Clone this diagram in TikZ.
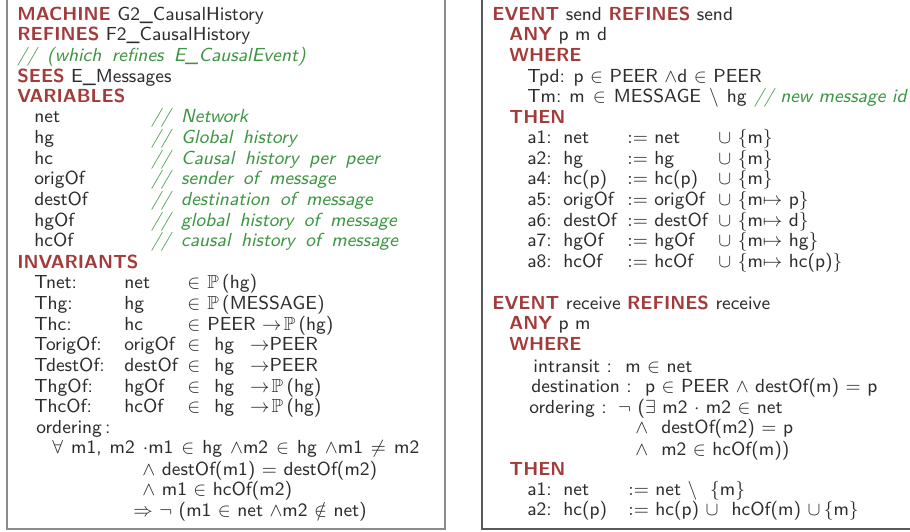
\documentclass[tikz,border=0pt]{standalone}
\usepackage{fix-cm}
\usepackage{amssymb}
\usepackage{xcolor}
\definecolor{kwred}{RGB}{163,59,59}
\definecolor{cmtgreen}{RGB}{62,150,68}
\definecolor{ink}{RGB}{45,45,45}
\newcommand\kw[1]{{\bfseries\color{kwred}#1}}
\newcommand\cmt[1]{{\itshape\color{cmtgreen}\spaceskip=.55em #1}}
\tikzset{
  line/.style={anchor=base west,inner sep=0pt,text=ink,font=\sffamily\fontsize{9.45}{10}\selectfont},
  frame/.style={draw=black!45,line width=0.6pt},
}

\begin{document}
\begin{tikzpicture}[x=0.5pt,y=-0.5pt]
\useasboundingbox (0,0) rectangle (910,531);
\clip (0,0) rectangle (910,531);
% the two boxes
\draw[frame] (7,-5) rectangle (445,529);
\draw[frame,draw=black!65] (482,-5) rectangle (925,529);

% machine
\node[line] (mach) at (17,20) {\kw{MACHINE} G2\_CausalHistory};
\node[line] (refs) at (17,40) {\kw{REFINES} F2\_CausalHistory};
\node[line] (which) at (17,61) {\cmt{// (which refines E\_CausalEvent)}};
\node[line] (sees) at (17,82) {\kw{SEES} E\_Messages};
\node[line] (vars) at (17,102) {\kw{VARIABLES}};
\foreach \v/\c [count=\i] in {net/Network, hg/Global history, hc/Causal history per peer,
    origOf/sender of message, destOf/destination of message,
    hgOf/global history of message, hcOf/causal history of message}{
  \node[line] (var\i) at (34,{102+20.67*\i}) {\v};
  \node[line] (cmt\i) at (151,{102+20.67*\i}) {\cmt{// \c}};
}
\node[line] (invs) at (17,268) {\kw{INVARIANTS}};
\foreach \l/\v/\t/\r [count=\i] in {Tnet/net/207/{$\mathbb{P}\,$(hg)},
    Thg/hg/207/{$\mathbb{P}\,$(MESSAGE)},
    Thc/hc/207/{PEER $\rightarrow\!\mathbb{P}\,$(hg)},
    TorigOf/origOf/214/{hg\hspace{8pt}$\rightarrow$PEER},
    TdestOf/destOf/214/{hg\hspace{8pt}$\rightarrow$PEER},
    ThgOf/hgOf/214/{hg\hspace{8pt}$\rightarrow\!\mathbb{P}\,$(hg)},
    ThcOf/hcOf/214/{hg\hspace{8pt}$\rightarrow\!\mathbb{P}\,$(hg)}}{
  \node[line] (lab\i) at (34,{268+20.67*\i}) {\l:};
  \node[line] (inv\i) at (124,{268+20.67*\i}) {\v};
  \node[line] (mem\i) at (187,{268+20.67*\i}) {$\in$};
  \node[line] (typ\i) at (\t,{268+20.67*\i}) {\r};
}
\node[line] (ord) at (36,433) {ordering\,:};
\node[line] (ord1) at (52,453) {\spaceskip=4pt $\forall$ m1, m2 $\cdot$m1 $\in$ hg $\wedge$m2 $\in$ hg $\wedge$m1 $\neq$ m2};
\node[line] (ord2) at (142,475) {$\wedge$ destOf(m1)\ $=$\ destOf(m2)};
\node[line] (ord3) at (142,495) {$\wedge$ m1 $\in$ hcOf(m2)};
\node[line] (ord4) at (133,516) {$\Rightarrow$\ $\neg$\ (m1 $\in$ net $\wedge$m2 $\notin$ net)};

% event send
\node[line] (send) at (492,20) {\kw{EVENT} send \kw{REFINES} send};
\node[line] (sany) at (509,40) {\kw{ANY} p m d};
\node[line] (swhere) at (509,61) {\kw{WHERE}};
\node[line] (tpd) at (527,82) {Tpd: p $\in$ PEER $\wedge$d $\in$ PEER};
\node[line] (tm) at (527,102) {\spaceskip=4pt Tm:\ m $\in$ MESSAGE $\setminus$ hg};
\node[line] (tmcmt) at (754,102) {{\itshape\color{cmtgreen}// new message id}};
\node[line] (sthen) at (509,123) {\kw{THEN}};
\foreach \a/\w/\s [count=\i] in {a1/net/{$\{$m$\}$}, a2/hg/{$\{$m$\}$}, a4/hc(p)/{$\{$m$\}$},
    a5/origOf/{$\{$m$\mapsto$ p$\}$}, a6/destOf/{$\{$m$\mapsto$ d$\}$},
    a7/hgOf/{$\{$m$\mapsto$ hg$\}$}, a8/hcOf/{$\{$m$\mapsto$ hc(p)$\}$}}{
  \node[line] (act\i) at (527,{123+20.6*\i}) {\a:};
  \node[line] (lhs\i) at (563,{123+20.6*\i}) {\w};
  \node[line] (rhs\i) at (627,{123+20.6*\i}) {$:=$ \w};
  \node[line] (uni\i) at (718,{123+20.6*\i}) {$\cup$\ \s};
}

% event receive
\node[line] (recv) at (492,309) {\kw{EVENT} receive \kw{REFINES} receive};
\node[line] (rany) at (509,329) {\kw{ANY} p m};
\node[line] (rwhere) at (509,350) {\kw{WHERE}};
\node[line] (grd1) at (533,372) {intransit :\hspace{.7em}m $\in$ net};
\node[line] (grd2) at (531,392) {destination :\hspace{.7em}p $\in$ PEER $\wedge$\ destOf(m)\ $=$\ p};
\node[line] (grd3) at (529,413) {ordering :\hspace{.6em}$\neg$ ($\exists$ m2 $\cdot$ m2 $\in$ net};
\node[line] (grd4) at (635,433) {$\wedge$\ \ destOf(m2)\ $=$\ p};
\node[line] (grd5) at (635,455) {$\wedge$\ \ m2 $\in$ hcOf(m))};
\node[line] (rthen) at (509,475) {\kw{THEN}};
\node[line] (ract1) at (527,495) {a1:};
\node[line] (rlhs1) at (563,495) {net};
\node[line] (rrhs1) at (628,495) {$:=$ net\ $\setminus$\ \ $\{$m$\}$};
\node[line] (ract2) at (527,515) {a2:};
\node[line] (rlhs2) at (563,515) {hc(p)};
\node[line] (rrhs2) at (628,515) {$:=$ hc(p) $\cup$\ \ hcOf(m) $\cup\,\{$m$\}$};
\end{tikzpicture}
\end{document}
